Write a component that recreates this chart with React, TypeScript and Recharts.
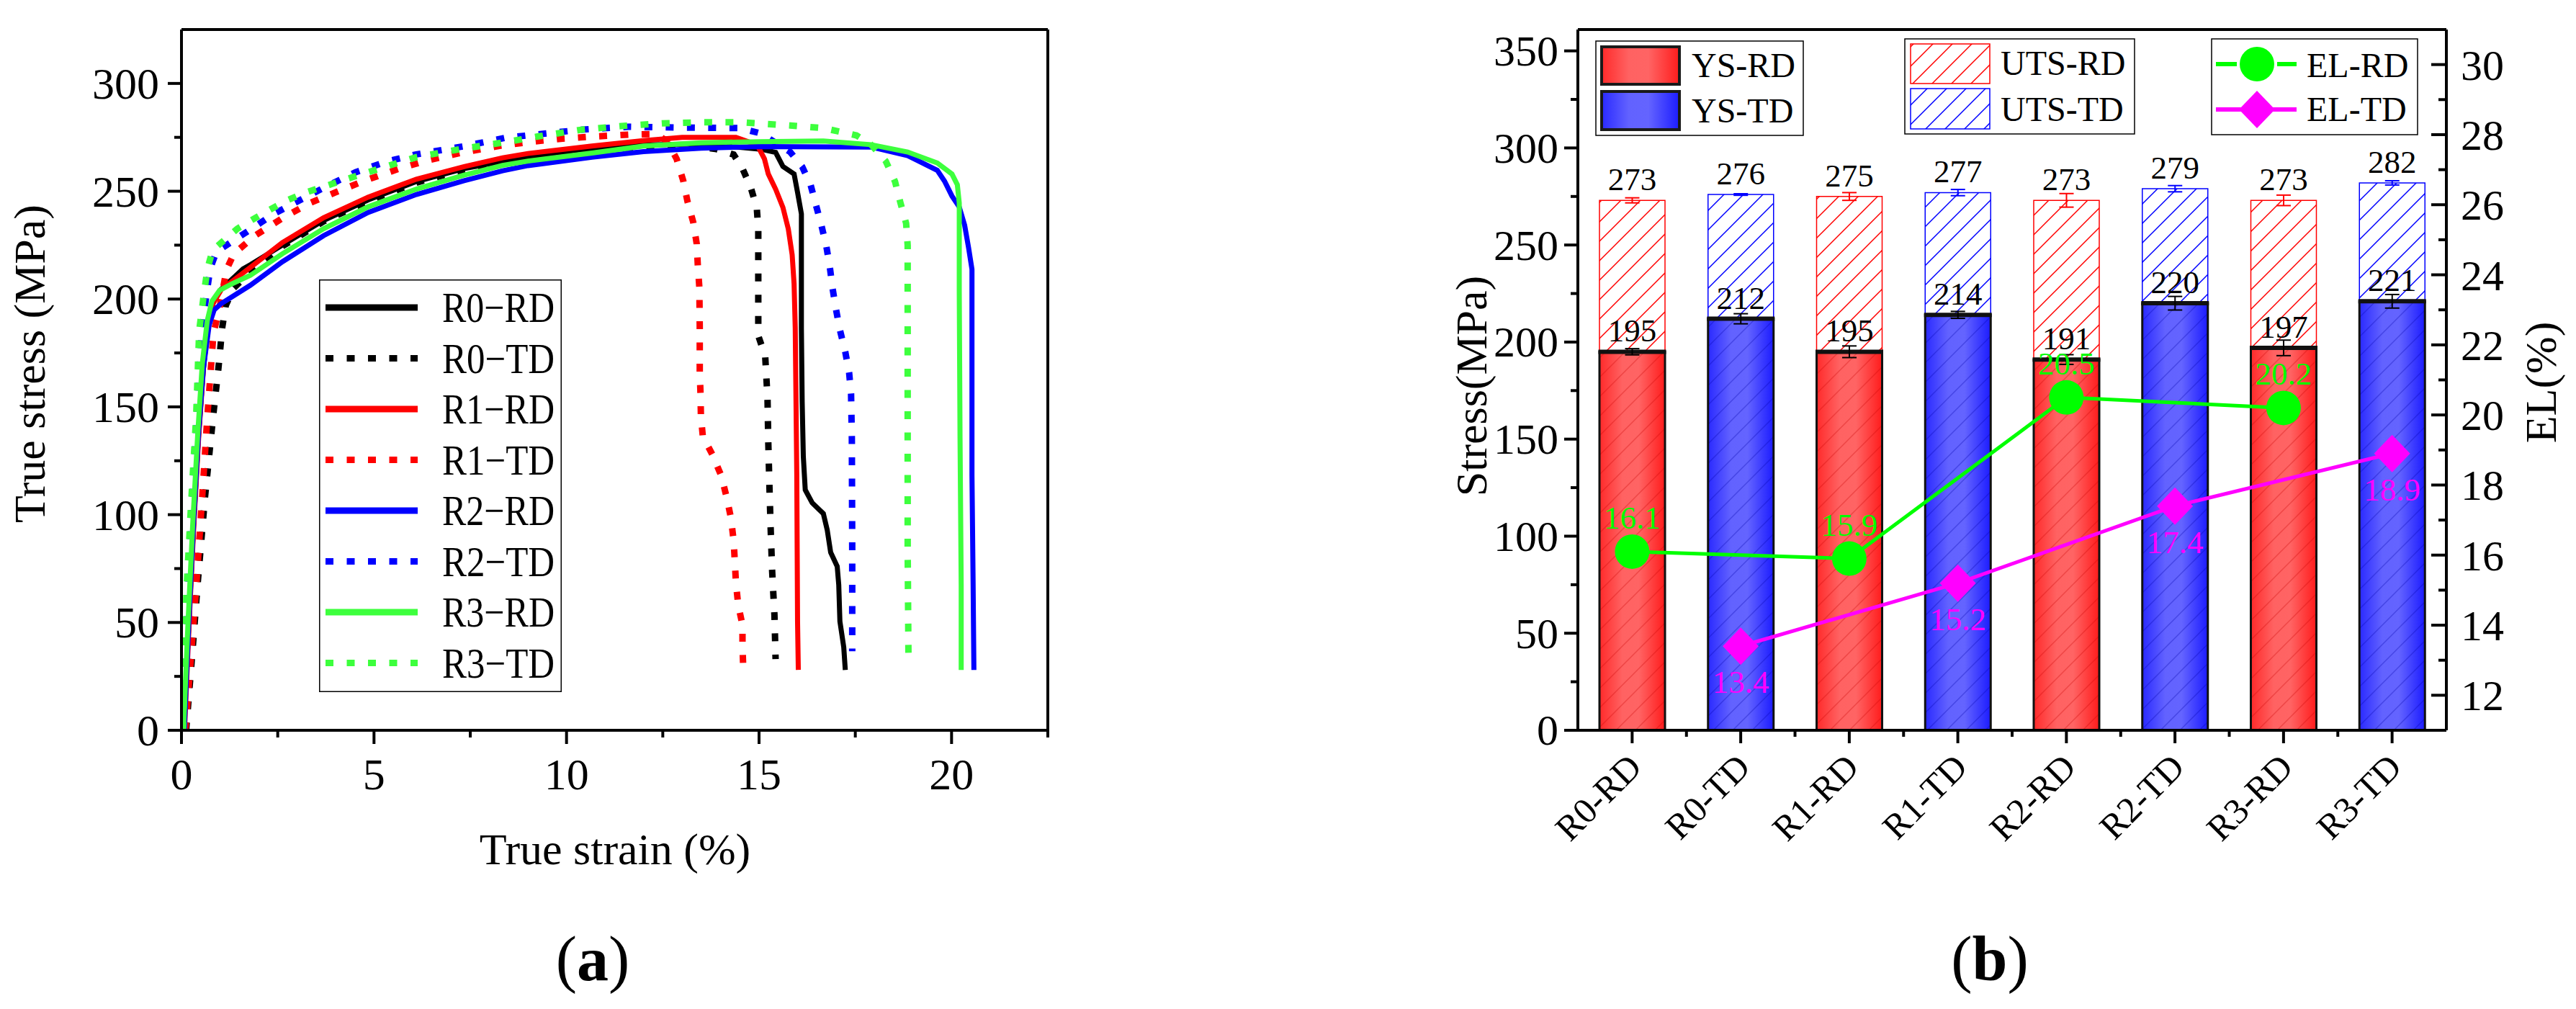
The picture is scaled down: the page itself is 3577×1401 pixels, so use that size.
import React from 'react';
import {
  LineChart, Line, XAxis, YAxis, ReferenceLine, Legend,
  ComposedChart, Bar, ErrorBar, LabelList,
} from 'recharts';

const FONT = '"Liberation Serif", "Times New Roman", Times, serif';

// ---------- (a) true stress-strain curves: [strain %, stress MPa]
const r0RD = [[0.06,0],[0.18,45],[0.3,90],[0.43,133],[0.56,166],[0.69,188],[0.82,198],[1.0,204],[1.3,209],[1.6,214],[1.8,216],[2.62,225],[3.69,236.5],[4.85,246],[6.1,254.5],[7.34,260.5],[9.0,266],[10.66,270],[12.0,271.5],[13.5,272],[15.05,269.5],[15.43,268],[15.62,261.5],[15.91,258],[16.0,249.5],[16.1,239.5],[16.1,220.5],[16.1,186.5],[16.12,152.5],[16.15,127],[16.2,111.5],[16.38,105.5],[16.67,100.5],[16.77,93],[16.86,82.5],[17.03,76],[17.07,67.5],[17.1,50.5],[17.2,38.5],[17.24,28]];
const r0TD = [[0.12,0],[0.3,40],[0.42,68],[0.61,108],[0.83,147],[0.96,168],[1.06,187],[1.15,197],[1.35,205],[1.79,212.5],[2.62,224.5],[3.69,236],[4.85,245.5],[6.1,254],[7.34,260],[9.0,265.5],[10.66,269.5],[12.0,270.5],[13.3,271],[13.9,269.5],[14.34,267],[14.57,260.5],[14.78,252],[14.94,242.5],[14.98,232.5],[14.98,183],[15.16,173.5],[15.22,154],[15.24,133.5],[15.27,113],[15.3,94.5],[15.34,74],[15.4,53.5],[15.43,33]];
const r1RD = [[0.08,0],[0.2,50],[0.32,95],[0.45,137],[0.58,170],[0.7,189],[0.82,198],[1.04,204.5],[1.79,214.7],[2.62,226.2],[3.69,237.7],[4.85,247.3],[6.1,255.6],[7.34,261.4],[8.34,265.5],[9.0,267.5],[10.66,271],[12.0,273.5],[13.0,275],[14.4,275],[14.95,271.5],[15.14,265],[15.24,258],[15.43,251],[15.62,242.5],[15.76,232.5],[15.86,220.5],[15.91,207],[15.94,186.5],[15.96,152.5],[15.98,118.5],[15.99,84.5],[16.0,50.5],[16.02,28]];
const r1TD = [[0.1,0],[0.25,35],[0.38,66],[0.53,106],[0.67,145],[0.83,184],[1.0,197],[1.17,213.7],[1.36,221],[1.91,229.4],[2.62,237.5],[3.32,244.4],[4.03,249.7],[4.77,255],[5.64,260.4],[6.39,264.3],[7.22,267.7],[8.34,271.3],[9.17,273.1],[9.95,274.5],[10.74,275.4],[11.65,276.3],[12.3,276.5],[12.6,273.5],[12.86,265],[13.03,255],[13.14,245.4],[13.29,235.7],[13.38,225.8],[13.41,215.5],[13.45,205.3],[13.46,186.5],[13.46,166],[13.48,156],[13.49,145.7],[13.54,136.3],[13.79,127.8],[14.02,118],[14.16,108],[14.27,98.5],[14.34,88],[14.37,78.5],[14.4,68.3],[14.46,58],[14.57,48.8],[14.57,38.5],[14.59,29]];
const r2RD = [[0.07,0],[0.19,50],[0.31,95],[0.44,137],[0.57,168],[0.72,188],[0.85,195],[1.04,198],[1.79,206.4],[2.62,217.3],[3.69,229.4],[4.85,240.2],[6.1,248.5],[7.34,254.9],[8.34,259.5],[9.0,261.9],[10.66,265.8],[12.0,268.4],[13.5,270],[15.0,270.7],[17.91,270.5],[18.86,266.5],[19.63,259.7],[19.82,254.6],[20.01,247.8],[20.2,242.7],[20.34,234.2],[20.44,224],[20.53,213.8],[20.53,169.6],[20.53,118.4],[20.56,67.3],[20.58,28]];
const r2TD = [[0.06,0],[0.17,64.7],[0.28,105],[0.4,145],[0.52,185],[0.67,204.8],[0.75,214.5],[0.91,222],[1.33,226.9],[1.71,231.3],[2.04,235.2],[2.41,239.6],[2.95,244.7],[3.78,252.4],[4.52,258.8],[5.35,263.9],[6.1,267.1],[7.34,270.9],[8.42,274.8],[10.41,278.6],[11.61,279.9],[13.0,279.5],[14.5,279.3],[15.05,276.8],[15.81,268.2],[16.12,261.4],[16.34,252.9],[16.48,243.5],[16.62,234.2],[16.75,224.3],[16.84,214.6],[16.91,204.9],[17.0,195.1],[17.1,185.7],[17.24,175.5],[17.34,165.8],[17.39,156],[17.41,135.5],[17.42,84.4],[17.42,36.7]];
const r3RD = [[0.05,0],[0.17,50],[0.29,95],[0.42,137],[0.54,170],[0.67,190],[0.79,199],[0.99,204],[1.3,207],[1.79,211],[2.62,221],[3.69,232.6],[4.85,242.8],[6.1,251],[7.34,257.5],[8.34,262],[9.0,264],[10.66,267.7],[12.0,271],[13.5,272.5],[15.0,273],[16.67,273.3],[17.91,271.6],[18.86,268.2],[19.63,263.1],[20.01,258],[20.15,253],[20.2,244.5],[20.2,203.6],[20.22,135.5],[20.25,67.3],[20.25,28]];
const r3TD = [[0.04,0],[0.13,64.7],[0.25,105],[0.38,145.2],[0.46,185.4],[0.6,204.8],[0.68,214.5],[0.81,222.7],[1.12,227.5],[1.45,232.6],[1.87,237.1],[2.24,240.9],[2.7,245.4],[3.19,249.2],[3.93,253.5],[4.44,256.5],[5.23,261],[6.1,265.8],[7.26,269.6],[8.42,272.8],[9.25,275.4],[10.41,278.6],[11.61,280.5],[12.5,281.5],[13.5,282],[14.5,282],[15.81,280.5],[16.67,279.3],[17.53,275.9],[17.91,271.6],[18.29,264],[18.53,254.6],[18.67,244.8],[18.82,235.1],[18.86,224.9],[18.86,152.4],[18.86,84.3],[18.88,35]];

const curveNames = ['R0-RD', 'R0-TD', 'R1-RD', 'R1-TD', 'R2-RD', 'R2-TD', 'R3-RD', 'R3-TD'];
const curveLegendLabels = ['R0\u2212RD', 'R0\u2212TD', 'R1\u2212RD', 'R1\u2212TD', 'R2\u2212RD', 'R2\u2212TD', 'R3\u2212RD', 'R3\u2212TD'];
const curveData = [r0RD, r0TD, r1RD, r1TD, r2RD, r2TD, r3RD, r3TD];
const strainTicks = [0, 2.5, 5, 7.5, 10, 12.5, 15, 17.5, 20, 22.5];
const stressTicks = [0, 25, 50, 75, 100, 125, 150, 175, 200, 225, 250, 275, 300];

// ---------- (b) strength and elongation
const categories = ['R0-RD', 'R0-TD', 'R1-RD', 'R1-TD', 'R2-RD', 'R2-TD', 'R3-RD', 'R3-TD'];
const ysValues = [195, 212, 195, 214, 191, 220, 197, 221];
const ysErrors = [1.6, 2.6, 3, 1.8, 2.5, 3.5, 4, 3.5];
const utsValues = [273, 276, 275, 277, 273, 279, 273, 282];
const utsErrors = [1.3, 0.4, 2, 1.6, 3.5, 1.6, 2.7, 1.1];
const elRdValues = [16.1, 15.9, 20.5, 20.2];
const elTdValues = [13.4, 15.2, 17.4, 18.9];
const stressTicksB = [0, 25, 50, 75, 100, 125, 150, 175, 200, 225, 250, 275, 300, 325, 350];
const elTicks = [12, 13, 14, 15, 16, 17, 18, 19, 20, 21, 22, 23, 24, 25, 26, 27, 28, 29, 30];

// ---------- styles
const curveColors = ['#000000', '#000000', '#ff0000', '#ff0000', '#0000ff', '#0000ff', '#3dff3d', '#3dff3d'];
const curveDotted = [false, true, false, true, false, true, false, true];
const DOTS = '11 18.5';
const HALF_BAND = 75.4;

const toPoints = (arr: number[][]) => arr.map(([x, y]) => ({ x, y }));

const rows = categories.map((cat, i) => {
  const rd = i % 2 === 0;
  const k = Math.floor(i / 2);
  return {
    cat,
    ysRD: rd ? ysValues[i] : null,
    ysTD: rd ? null : ysValues[i],
    ysRDErr: rd ? ysErrors[i] : null,
    ysTDErr: rd ? null : ysErrors[i],
    utsRD: rd ? utsValues[i] : null,
    utsTD: rd ? null : utsValues[i],
    utsRDErr: rd ? utsErrors[i] : null,
    utsTDErr: rd ? null : utsErrors[i],
    elRD: rd ? elRdValues[k] : null,
    elTD: rd ? null : elTdValues[k],
  };
});

// ---------- ticks
const StrainTick = (p: any) => {
  const { x, y, payload } = p;
  const major = payload.value % 5 === 0;
  return (
    <g>
      <line x1={x} x2={x} y1={y} y2={y + (major ? 19 : 10)} stroke="#000" strokeWidth={4} />
      {major && (
        <text x={x} y={y + 82} textAnchor="middle" fontSize={62} fontFamily={FONT} fill="#000">{payload.value}</text>
      )}
    </g>
  );
};

const makeLeftTick = (step: number, gap: number, size: number) => (p: any) => {
  const { x, y, payload } = p;
  const major = payload.value % step === 0;
  return (
    <g>
      <line x1={x} x2={x - (major ? 19 : 10)} y1={y} y2={y} stroke="#000" strokeWidth={4} />
      {major && (
        <text x={x - gap} y={y + size * 0.34} textAnchor="end" fontSize={size} fontFamily={FONT} fill="#000">{payload.value}</text>
      )}
    </g>
  );
};
const StressTick = makeLeftTick(50, 31, 62);
const StressTickB = makeLeftTick(50, 27, 60);

const ElTick = (p: any) => {
  const { x, y, payload } = p;
  const major = payload.value % 2 === 0;
  return (
    <g>
      <line x1={x} x2={x - (major ? 21 : 11)} y1={y} y2={y} stroke="#000" strokeWidth={4} />
      {major && (
        <text x={x + 20} y={y + 21} textAnchor="start" fontSize={60} fontFamily={FONT} fill="#000">{payload.value}</text>
      )}
    </g>
  );
};

const CatTick = (p: any) => {
  const { x, y, payload, index } = p;
  const ax = x + 16;
  const ay = y + 54;
  return (
    <g>
      <line x1={x} x2={x} y1={y} y2={y + 18} stroke="#000" strokeWidth={4} />
      {index < categories.length - 1 && (
        <line x1={x + HALF_BAND} x2={x + HALF_BAND} y1={y} y2={y + 9} stroke="#000" strokeWidth={4} />
      )}
      <text x={ax} y={ay} transform={`rotate(-45 ${ax} ${ay})`} textAnchor="end" fontSize={50} fontFamily={FONT} fill="#000">
        {payload.value}
      </text>
    </g>
  );
};

// ---------- bar shapes and markers
const makeYsShape = (grad: string, hatch: string) => (p: any) => {
  const { x, y, width, height } = p;
  if (height == null || !(height > 0)) return <g />;
  return (
    <g>
      <rect x={x} y={y} width={width} height={height} fill={`url(#${grad})`} />
      <rect x={x} y={y} width={width} height={height} fill={`url(#${hatch})`} />
      <rect x={x} y={y} width={width} height={height} fill="none" stroke="#111" strokeWidth={3} />
      <line x1={x - 1.5} x2={x + width + 1.5} y1={y} y2={y} stroke="#111" strokeWidth={6} />
    </g>
  );
};
const YsRdShape = makeYsShape('gradRD', 'faintRD');
const YsTdShape = makeYsShape('gradTD', 'faintTD');

const ElRdDot = (p: any) => {
  const { cx, cy, index } = p;
  if (cx == null || cy == null || Number.isNaN(cy)) return <g key={`er${index}`} />;
  return <circle key={`er${index}`} cx={cx} cy={cy} r={24} fill="#00ff00" />;
};
const ElTdDot = (p: any) => {
  const { cx, cy, index } = p;
  if (cx == null || cy == null || Number.isNaN(cy)) return <g key={`et${index}`} />;
  return <polygon key={`et${index}`} points={`${cx},${cy - 26} ${cx + 25},${cy} ${cx},${cy + 26} ${cx - 25},${cy}`} fill="#ff00ff" />;
};

// ---------- legends
const CurveLegend = () => (
  <svg width={400} height={573} style={{ display: 'block', overflow: 'visible' }}>
    <rect x={0.75} y={0.75} width={335.5} height={571.5} fill="#fff" stroke="#000" strokeWidth={1.5} />
    {curveLegendLabels.map((name, i) => {
      const cy = 39 + 70.5 * i;
      return (
        <g key={name}>
          <line x1={9} x2={137} y1={cy} y2={cy} stroke={curveColors[i]} strokeWidth={9}
            strokeDasharray={curveDotted[i] ? DOTS : undefined} />
          <text x={171} y={cy + 20} fontSize={60} fontFamily={FONT} fill="#000"
            textLength={156} lengthAdjust="spacingAndGlyphs">{name}</text>
        </g>
      );
    })}
  </svg>
);

const BarLegend = () => (
  <svg width={1777} height={200} style={{ display: 'block' }}>
    <rect x={416} y={57} width={288} height={131} fill="#fff" stroke="#000" strokeWidth={1.5} />
    <rect x={424} y={65} width={108} height={52} fill="url(#gradRD)" stroke="#1a1a1a" strokeWidth={4} />
    <rect x={424} y={127} width={108} height={53} fill="url(#gradTD)" stroke="#1a1a1a" strokeWidth={4} />
    <text x={549} y={107} fontSize={48} fontFamily={FONT}>YS-RD</text>
    <text x={549} y={170} fontSize={48} fontFamily={FONT}>YS-TD</text>

    <rect x={845} y={54} width={319} height={132} fill="#fff" stroke="#000" strokeWidth={1.5} />
    <rect x={853} y={61} width={110} height={55} fill="url(#hatchRD)" stroke="#ff0000" strokeWidth={1.5} />
    <rect x={853} y={123} width={110} height={56} fill="url(#hatchTD)" stroke="#0000ff" strokeWidth={1.5} />
    <text x={978} y={104} fontSize={48} fontFamily={FONT}>UTS-RD</text>
    <text x={978} y={168} fontSize={48} fontFamily={FONT}>UTS-TD</text>

    <rect x={1271} y={54} width={286} height={133} fill="#fff" stroke="#000" strokeWidth={1.5} />
    <line x1={1277} x2={1306} y1={89} y2={89} stroke="#00ff00" strokeWidth={6} />
    <line x1={1362} x2={1389} y1={89} y2={89} stroke="#00ff00" strokeWidth={6} />
    <circle cx={1334} cy={89} r={24} fill="#00ff00" />
    <line x1={1277} x2={1389} y1={152} y2={152} stroke="#ff00ff" strokeWidth={6} />
    <polygon points="1334,126 1359,152 1334,178 1309,152" fill="#ff00ff" />
    <text x={1403} y={107} fontSize={48} fontFamily={FONT}>EL-RD</text>
    <text x={1403} y={168} fontSize={48} fontFamily={FONT}>EL-TD</text>
  </svg>
);

const labelFont = { fontSize: 45, fontFamily: FONT };

const App = () => (
  <div style={{ position: 'absolute', left: 0, top: 0, width: 3577, height: 1401, background: '#fff' }}>
    {/* (a) */}
    <div style={{ position: 'absolute', left: 0, top: 0 }}>
      <LineChart width={1560} height={1401} margin={{ top: 41, right: 105, bottom: 327, left: 152 }}>
        <XAxis
          dataKey="x" type="number" domain={[0, 22.5]} ticks={strainTicks} interval={0}
          tick={StrainTick} tickLine={false} tickSize={0} tickMargin={0} height={60}
          axisLine={{ stroke: '#000', strokeWidth: 4 }} allowDataOverflow
          label={{
            content: () => (
              <g>
                <text x={854} y={1200} textAnchor="middle" fontSize={62} fontFamily={FONT} fill="#000">True strain (%)</text>
                <text x={823} y={1361} textAnchor="middle" fontSize={88} fontFamily={FONT} fill="#000">
                  (<tspan fontWeight="bold">a</tspan>)
                </text>
              </g>
            ),
          }}
        />
        <YAxis
          type="number" domain={[0, 325]} ticks={stressTicks} interval={0} width={100}
          tick={StressTick} tickLine={false} tickSize={0} tickMargin={0}
          axisLine={{ stroke: '#000', strokeWidth: 4 }} allowDataOverflow
          label={{
            content: () => (
              <text x={62} y={505} transform="rotate(-90 62 505)" textAnchor="middle" fontSize={62} fontFamily={FONT} fill="#000">
                True stress (MPa)
              </text>
            ),
          }}
        />
        <ReferenceLine x={22.5} stroke="#000" strokeWidth={4} />
        <ReferenceLine y={325} stroke="#000" strokeWidth={4} />
        {curveData.map((d, i) => (
          <Line
            key={curveNames[i]} name={curveNames[i]} data={toPoints(d)} dataKey="y" type="linear"
            stroke={curveColors[i]} strokeWidth={curveDotted[i] ? 9 : 7}
            strokeDasharray={curveDotted[i] ? DOTS : undefined}
            dot={false} activeDot={false} isAnimationActive={false}
          />
        ))}
        <Legend
          layout="vertical" align="center" verticalAlign="middle"
          wrapperStyle={{ left: 443, top: 388, width: 400, height: 573 }}
          content={() => <CurveLegend />}
        />
      </LineChart>
    </div>

    {/* (b) */}
    <div style={{ position: 'absolute', left: 1800, top: 0 }}>
      <ComposedChart
        width={1777} height={1401} data={rows} barSize={91} barGap={-91}
        margin={{ top: 41, right: 100, bottom: 327, left: 291 }}
      >
        <defs>
          <linearGradient id="gradRD" x1="0" y1="0" x2="1" y2="0">
            <stop offset="0" stopColor="#ff2a2a" />
            <stop offset="0.35" stopColor="#ff6262" />
            <stop offset="0.6" stopColor="#ff6464" />
            <stop offset="1" stopColor="#ff1c1c" />
          </linearGradient>
          <linearGradient id="gradTD" x1="0" y1="0" x2="1" y2="0">
            <stop offset="0" stopColor="#2a2aff" />
            <stop offset="0.35" stopColor="#6262ff" />
            <stop offset="0.6" stopColor="#6464ff" />
            <stop offset="1" stopColor="#1c1cff" />
          </linearGradient>
          <pattern id="hatchRD" patternUnits="userSpaceOnUse" width="27" height="27">
            <rect width="27" height="27" fill="#fff" />
            <path d="M0,27 L27,0 M-7,7 L7,-7 M20,34 L34,20" stroke="#ff0000" strokeWidth="1.5" />
          </pattern>
          <pattern id="hatchTD" patternUnits="userSpaceOnUse" width="27" height="27">
            <rect width="27" height="27" fill="#fff" />
            <path d="M0,27 L27,0 M-7,7 L7,-7 M20,34 L34,20" stroke="#0000ff" strokeWidth="1.5" />
          </pattern>
          <pattern id="faintRD" patternUnits="userSpaceOnUse" width="27" height="27">
            <path d="M0,27 L27,0 M-7,7 L7,-7 M20,34 L34,20" stroke="rgba(200,0,0,0.3)" strokeWidth="1.5" />
          </pattern>
          <pattern id="faintTD" patternUnits="userSpaceOnUse" width="27" height="27">
            <path d="M0,27 L27,0 M-7,7 L7,-7 M20,34 L34,20" stroke="rgba(0,0,170,0.3)" strokeWidth="1.5" />
          </pattern>
        </defs>
        <XAxis
          dataKey="cat" type="category" interval={0} tick={CatTick} tickLine={false}
          tickSize={0} tickMargin={0} height={60} axisLine={{ stroke: '#000', strokeWidth: 4 }}
          label={{
            content: () => (
              <text x={963} y={1361} textAnchor="middle" fontSize={88} fontFamily={FONT} fill="#000">
                (<tspan fontWeight="bold">b</tspan>)
              </text>
            ),
          }}
        />
        <YAxis
          yAxisId="left" type="number" domain={[0, 361]} ticks={stressTicksB} interval={0} width={100}
          tick={StressTickB} tickLine={false} tickSize={0} tickMargin={0}
          axisLine={{ stroke: '#000', strokeWidth: 4 }} allowDataOverflow
          label={{
            content: () => (
              <text x={264} y={536} transform="rotate(-90 264 536)" textAnchor="middle" fontSize={62} fontFamily={FONT} fill="#000">
                Stress(MPa)
              </text>
            ),
          }}
        />
        <YAxis
          yAxisId="right" orientation="right" type="number" domain={[11, 31]} ticks={elTicks} interval={0} width={80}
          tick={ElTick} tickLine={false} tickSize={0} tickMargin={0}
          axisLine={{ stroke: '#000', strokeWidth: 4 }} allowDataOverflow
          label={{
            content: () => (
              <text x={1749} y={531} transform="rotate(-90 1749 531)" textAnchor="middle" fontSize={62} fontFamily={FONT} fill="#000">
                EL(%)
              </text>
            ),
          }}
        />
        <ReferenceLine yAxisId="left" y={361} stroke="#000" strokeWidth={4} />

        <Bar yAxisId="left" dataKey="utsRD" name="UTS-RD" fill="url(#hatchRD)" stroke="#ff0000" strokeWidth={1.5} isAnimationActive={false}>
          <ErrorBar dataKey="utsRDErr" width={10} stroke="#ff0000" strokeWidth={2} />
          <LabelList dataKey="utsRD" position="top" offset={14} fill="#000" {...labelFont} />
        </Bar>
        <Bar yAxisId="left" dataKey="utsTD" name="UTS-TD" fill="url(#hatchTD)" stroke="#0000ff" strokeWidth={1.5} isAnimationActive={false}>
          <ErrorBar dataKey="utsTDErr" width={10} stroke="#0000ff" strokeWidth={2} />
          <LabelList dataKey="utsTD" position="top" offset={14} fill="#000" {...labelFont} />
        </Bar>
        <Bar yAxisId="left" dataKey="ysRD" name="YS-RD" fill="#ff4040" shape={YsRdShape} isAnimationActive={false}>
          <ErrorBar dataKey="ysRDErr" width={10} stroke="#000" strokeWidth={2} />
          <LabelList dataKey="ysRD" position="top" offset={14} fill="#000" {...labelFont} />
        </Bar>
        <Bar yAxisId="left" dataKey="ysTD" name="YS-TD" fill="#4040ff" shape={YsTdShape} isAnimationActive={false}>
          <ErrorBar dataKey="ysTDErr" width={10} stroke="#000" strokeWidth={2} />
          <LabelList dataKey="ysTD" position="top" offset={14} fill="#000" {...labelFont} />
        </Bar>

        <Line
          yAxisId="right" dataKey="elRD" name="EL-RD" type="linear" stroke="#00ff00" strokeWidth={5}
          connectNulls dot={ElRdDot} activeDot={false} isAnimationActive={false}
        >
          <LabelList dataKey="elRD" position="top" offset={32} fill="#00ff00" {...labelFont} />
        </Line>
        <Line
          yAxisId="right" dataKey="elTD" name="EL-TD" type="linear" stroke="#ff00ff" strokeWidth={5}
          connectNulls dot={ElTdDot} activeDot={false} isAnimationActive={false}
        >
          <LabelList dataKey="elTD" position="bottom" offset={33} fill="#ff00ff" {...labelFont} />
        </Line>

        <Legend
          layout="vertical" align="center" verticalAlign="middle"
          wrapperStyle={{ left: 0, top: 0, width: 1777, height: 200 }}
          content={() => <BarLegend />}
        />
      </ComposedChart>
    </div>
  </div>
);

export default App;
